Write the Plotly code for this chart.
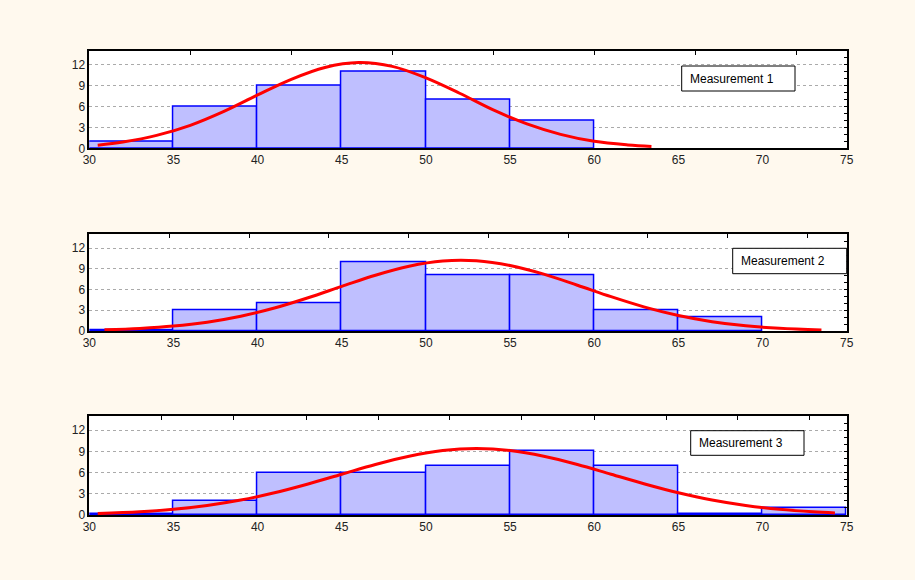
import plotly.graph_objects as go

# ---- data ----
bin_centers = [32.5, 37.5, 42.5, 47.5, 52.5, 57.5, 62.5, 67.5, 72.5]
bin_width = 5

counts_1 = [1, 6, 9, 11, 7, 4, None, None, None]
counts_2 = [0.15, 3, 4, 10, 8, 8, 3, 2, None]
counts_3 = [0.15, 2, 6, 6, 7, 9, 7, 0.15, 1]

curve_x_1 = [30.5, 32, 34, 36, 38, 40, 42, 44, 46, 48, 50, 52, 54, 56, 58, 60, 62, 63.4]
curve_y_1 = [0.45, 0.9, 1.85, 3.3, 5.3, 7.65, 9.9, 11.6, 12.3, 11.75, 10.1, 7.9, 5.5, 3.5, 2.0, 1.0, 0.48, 0.27]

curve_x_2 = [30.9, 33, 35, 37, 39, 41, 43, 45, 47, 49, 51, 53, 55, 57, 59, 61, 63, 65, 67, 69, 71, 73.5]
curve_y_2 = [0.17, 0.37, 0.71, 1.28, 2.14, 3.32, 4.81, 6.46, 8.08, 9.38, 10.13, 10.16, 9.48, 8.23, 6.63, 4.97, 3.46, 2.24, 1.35, 0.75, 0.39, 0.16]

curve_x_3 = [30.5, 33, 35, 37, 39, 41, 43, 45, 47, 49, 51, 53, 55, 57, 59, 61, 63, 65, 67, 69, 71, 73, 74.3]
curve_y_3 = [0.2, 0.45, 0.8, 1.34, 2.11, 3.14, 4.39, 5.77, 7.15, 8.32, 9.12, 9.4, 9.12, 8.32, 7.15, 5.77, 4.39, 3.14, 2.11, 1.34, 0.8, 0.45, 0.3]

labels = ["Measurement 1", "Measurement 2", "Measurement 3"]

x_tick_vals = [30, 35, 40, 45, 50, 55, 60, 65, 70, 75]
y_tick_vals = [0, 3, 6, 9, 12]

top_ticks_1 = [36, 42, 48, 54, 60, 66, 72]
top_ticks_2 = [34.75, 39.49, 44.22, 48.96, 53.71, 58.47, 63.18, 67.94, 72.69]
top_ticks_3 = [34.3, 38.56, 42.88, 47.17, 51.43, 55.7, 60.0, 64.3, 68.5, 72.8]

# ---- layout geometry ----
W, H = 915, 580
x_dom = [89.3 / W, 846.7 / W]
y_doms = [
    [1 - 148.3 / H, 1 - 50.7 / H],
    [1 - 331.0 / H, 1 - 234.3 / H],
    [1 - 515.0 / H, 1 - 416.0 / H],
]
label_boxes = [  # x0, x1, y0, y1 in pixels
    (681.7, 795.0, 66.0, 91.0),
    (732.7, 846.7, 248.3, 273.7),
    (690.7, 804.0, 430.7, 455.3),
]

BG = "#FFF9EE"
FILL = "#BFBFFF"
EDGE = "#0000FF"
font_family = "Arial, Liberation Sans, sans-serif"

fig = go.Figure()
layout = dict(
    width=W, height=H, autosize=False,
    margin=dict(l=0, r=0, t=0, b=0, pad=0),
    paper_bgcolor=BG, plot_bgcolor="white",
    showlegend=False,
    font=dict(family=font_family, size=12, color="#222222"),
    bargap=0,
    shapes=[], annotations=[],
)

panels = [
    (counts_1, curve_x_1, curve_y_1, top_ticks_1),
    (counts_2, curve_x_2, curve_y_2, top_ticks_2),
    (counts_3, curve_x_3, curve_y_3, top_ticks_3),
]

for i, (counts, cx, cy, top_ticks) in enumerate(panels):
    xm = 3 * i + 1
    xt = 3 * i + 2
    ym = 3 * i + 1
    yr = 3 * i + 2
    xm_id = "x" if xm == 1 else f"x{xm}"
    ym_id = "y" if ym == 1 else f"y{ym}"
    xt_id = f"x{xt}"
    yr_id = f"y{yr}"

    fig.add_trace(go.Bar(
        x=bin_centers, y=counts, width=bin_width,
        marker=dict(color=FILL, line=dict(color=EDGE, width=1.5)),
        xaxis=xm_id, yaxis=ym_id, hoverinfo="skip",
    ))
    fig.add_trace(go.Scatter(
        x=cx, y=cy, mode="lines",
        line=dict(color="#FF0000", width=3, shape="spline"),
        xaxis=xm_id, yaxis=ym_id, hoverinfo="skip",
    ))
    fig.add_trace(go.Scatter(x=[30], y=[0], mode="markers", marker=dict(opacity=0),
                             xaxis=xt_id, yaxis=yr_id, hoverinfo="skip"))

    xkey = "xaxis" if xm == 1 else f"xaxis{xm}"
    ykey = "yaxis" if ym == 1 else f"yaxis{ym}"
    layout[xkey] = dict(
        domain=x_dom, anchor=ym_id, range=[30, 75], automargin=False,
        tickvals=x_tick_vals, ticks="", showgrid=False, zeroline=False,
        showline=True, linecolor="black", linewidth=1.5, mirror=True,
        tickfont=dict(size=12, color="#222222"),
    )
    layout[ykey] = dict(
        domain=y_doms[i], anchor=xm_id, range=[0, 14], automargin=False,
        tickvals=y_tick_vals, ticks="", showgrid=True,
        gridcolor="#AAAAAA", griddash="dot", gridwidth=1, zeroline=False,
        showline=True, linecolor="black", linewidth=1.5, mirror=True,
        tickfont=dict(size=12, color="#222222"),
    )
    layout[f"xaxis{xt}"] = dict(
        overlaying=xm_id, side="top", anchor=yr_id, range=[30, 75], automargin=False,
        tickvals=top_ticks, ticks="inside", ticklen=4, tickcolor="black", tickwidth=1,
        showticklabels=False, showgrid=False, zeroline=False, showline=False,
    )
    layout[f"yaxis{yr}"] = dict(
        overlaying=ym_id, side="right", anchor=xt_id, range=[0, 14], automargin=False,
        dtick=1, tick0=0, ticks="inside", ticklen=3, tickcolor="black", tickwidth=1,
        showticklabels=False, showgrid=False, zeroline=False, showline=False,
    )

    x0, x1, y0, y1 = label_boxes[i]
    layout["shapes"].append(dict(
        type="rect", xref="paper", yref="paper",
        x0=x0 / W, x1=x1 / W, y0=1 - y1 / H, y1=1 - y0 / H,
        line=dict(color="black", width=1), fillcolor="white", layer="above",
    ))
    layout["annotations"].append(dict(
        text=labels[i], xref="paper", yref="paper",
        x=(x0 + 6) / W, y=1 - (y0 + y1) / 2 / H,
        xanchor="left", yanchor="middle", showarrow=False,
        font=dict(size=12, color="black", family=font_family),
    ))

fig.update_layout(**layout)
fig.write_html(
    "out.html",
    config={"responsive": False, "displayModeBar": False},
    post_script="document.body.style.margin='0';document.body.style.padding='0';document.body.style.overflow='hidden';",
)
